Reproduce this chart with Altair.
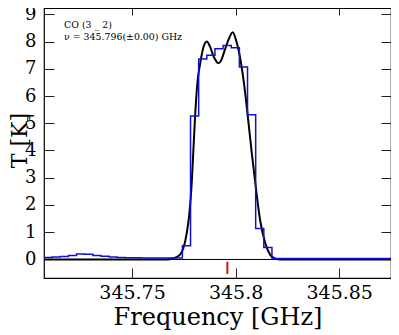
import altair as alt
import pandas as pd

# ---- data ----
chan_freq = [345.70553, 345.70946, 345.71339, 345.71732, 345.72125, 345.72518,
             345.72911, 345.73304, 345.73697, 345.74090, 345.74483, 345.74876,
             345.75269, 345.75662, 345.76055, 345.76448, 345.76841, 345.77234,
             345.77627, 345.78020, 345.78413, 345.78806, 345.79199, 345.79592,
             345.79985, 345.80378, 345.80771, 345.81164, 345.81557, 345.81950,
             345.82343, 345.82736, 345.83129, 345.83522, 345.83915, 345.84308,
             345.84701, 345.85094, 345.85487, 345.85880, 345.86273, 345.86666,
             345.87059, 345.87452, 345.87845]
chan_temp = [0.06, 0.07, 0.09, 0.11, 0.15, 0.20,
             0.19, 0.15, 0.12, 0.09, 0.07, 0.06,
             0.06, 0.05, 0.05, 0.05, 0.05, 0.05,
             0.50, 5.27, 7.36, 7.50, 7.73, 7.85,
             7.77, 7.06, 5.31, 1.14, 0.44, 0.04,
             0.04, 0.04, 0.04, 0.04, 0.04, 0.04,
             0.04, 0.04, 0.04, 0.04, 0.04, 0.04,
             0.04, 0.04, 0.04]

fit_freq = [345.7075, 345.7659, 345.7693, 345.7717, 345.7732, 345.7748, 345.7764,
            345.7777, 345.7788, 345.7796, 345.7804, 345.7815, 345.7829, 345.7845,
            345.7861, 345.7877, 345.7891, 345.7906, 345.7917, 345.7930, 345.7944,
            345.7965, 345.7986, 345.8002, 345.8014, 345.8038, 345.8057, 345.8078,
            345.8099, 345.8118, 345.8143, 345.8167, 345.8191, 345.8215, 345.8750]
fit_temp = [0.0, 0.0, 0.03, 0.10, 0.18, 0.42, 0.97,
            1.70, 2.80, 4.00, 5.20, 6.45, 7.20, 7.80,
            8.00, 7.80, 7.50, 7.28, 7.20, 7.30, 7.60,
            8.05, 8.34, 8.05, 7.70, 6.60, 5.38, 3.90,
            2.55, 1.45, 0.60, 0.17, 0.03, 0.0, 0.0]

x_ticks = [345.75, 345.8, 345.85]
y_ticks = [0, 1, 2, 3, 4, 5, 6, 7, 8, 9]
line_freq = [345.796]
line_mark_lo = [-0.08]
line_mark_hi = [-0.53]
ann_text = ["CO (3 _ 2)", "\u03bd = 345.796(\u00b10.00) GHz"]
ann_freq = [345.7172, 345.7172]
ann_temp = [8.48, 8.04]

X_DOMAIN = [345.7075, 345.875]
Y_DOMAIN = [-0.68, 9.23]

SERIF = "DejaVu Serif"

chan_df = pd.DataFrame({"freq": chan_freq, "T": chan_temp})
fit_df = pd.DataFrame({"freq": fit_freq, "T": fit_temp})
red_df = pd.DataFrame({"freq": line_freq, "lo": line_mark_lo, "hi": line_mark_hi})
ann_df = pd.DataFrame({"freq": ann_freq, "T": ann_temp, "txt": ann_text})

xs = alt.Scale(domain=X_DOMAIN, nice=False, zero=False)
ys = alt.Scale(domain=Y_DOMAIN, nice=False, zero=False)

x_axis = alt.Axis(
    orient="bottom", values=x_ticks, format=".2~f", offset=-10, tickSize=10,
    tickColor="#222", tickWidth=1, domain=False, grid=False,
    labelFont=SERIF, labelFontSize=19, labelColor="black", labelPadding=20,
    labelBaseline="alphabetic", labelFlush=False,
    title="Frequency [GHz]", titleFont=SERIF, titleFontSize=24,
    titleFontWeight="normal", titleColor="black", titleX=173.5, titleY=56,
    titleAlign="center", titleBaseline="alphabetic", titleAnchor="middle",
)
y_axis = alt.Axis(
    orient="left", values=y_ticks, format="d", offset=-10, tickSize=10,
    tickColor="#222", tickWidth=1, domain=False, grid=False,
    labelFont=SERIF, labelFontSize=18, labelColor="black", labelPadding=8,
    title="T [K]", titleFont=SERIF, titleFontSize=22, titleFontWeight="normal",
    titleColor="black", titleX=-28, titleY=132, titleAngle=270,
    titleAlign="center", titleBaseline="alphabetic",
)
x_top = alt.Axis(orient="top", values=x_ticks, offset=-7, tickSize=7,
                 tickColor="#222", domain=False, grid=False, labels=False,
                 title=None)
y_right = alt.Axis(orient="right", values=y_ticks, offset=-10, tickSize=10,
                   tickColor="#222", domain=False, grid=False, labels=False,
                   title=None)

fit = alt.Chart(fit_df).mark_line(
    color="black", strokeWidth=2, interpolate="monotone", clip=True
).encode(
    x=alt.X("freq:Q", scale=xs, axis=None),
    y=alt.Y("T:Q", scale=ys, axis=None),
)

steps = alt.Chart(chan_df).mark_line(
    color="#1010d8", strokeWidth=1.5, interpolate="step", clip=True
).encode(
    x=alt.X("freq:Q", scale=xs, axis=x_axis),
    y=alt.Y("T:Q", scale=ys, axis=y_axis),
)

zero = alt.Chart(chan_df).mark_rule(color="black", strokeWidth=1).encode(
    y=alt.Y("z:Q", scale=ys, axis=None)
).transform_calculate(z="0").transform_filter("datum.freq == %r" % chan_freq[0])

red = alt.Chart(red_df).mark_rule(color="#d41010", strokeWidth=2).encode(
    x=alt.X("freq:Q", scale=xs, axis=None),
    y=alt.Y("lo:Q", scale=ys, axis=None),
    y2="hi:Q",
)

ann = alt.Chart(ann_df).mark_text(
    align="left", baseline="alphabetic", font=SERIF, fontSize=9.4, color="black"
).encode(
    x=alt.X("freq:Q", scale=xs, axis=None),
    y=alt.Y("T:Q", scale=ys, axis=None),
    text="txt:N",
)

mirror = alt.Chart(chan_df).mark_line(opacity=0).encode(
    x=alt.X("freq:Q", scale=xs, axis=x_top),
    y=alt.Y("T:Q", scale=ys, axis=y_right),
)

chart = alt.layer(zero, fit, steps, red, ann, mirror).resolve_axis(
    x="independent", y="independent"
).properties(
    width=347, height=270,
    autosize=alt.AutoSizeParams(type="none"),
    padding={"left": 36, "top": 0, "right": 0, "bottom": 57},
    background="white",
).configure_view(stroke="black", strokeWidth=1.2)

chart.save("out.html", embed_options={"renderer": "svg", "actions": False})
